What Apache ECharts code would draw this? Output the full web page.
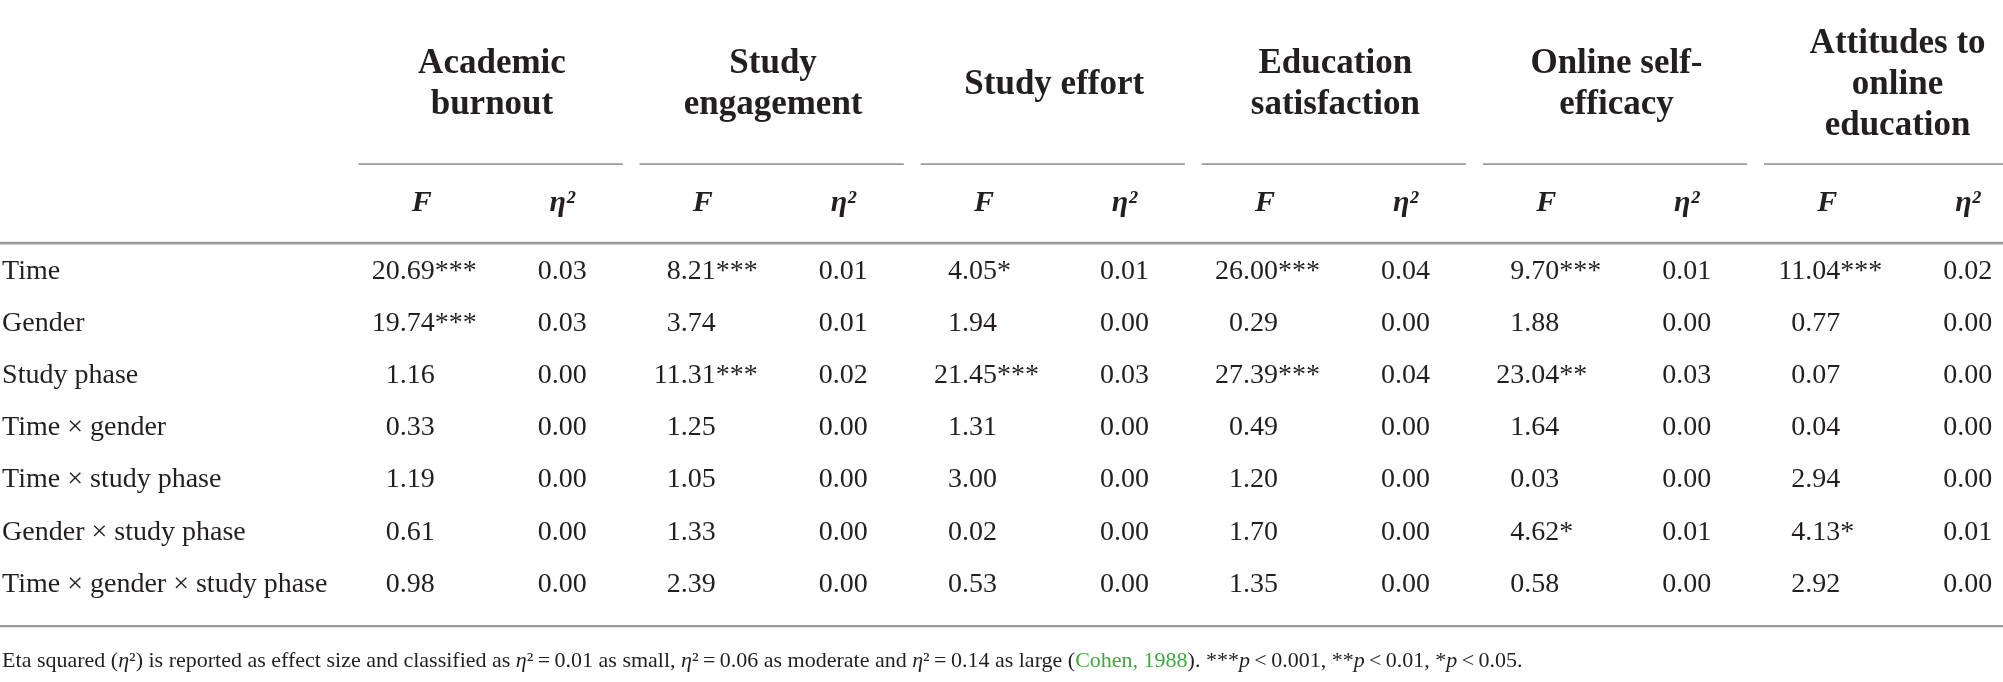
<!DOCTYPE html>
<html>
<head>
<meta charset="utf-8">
<script src="https://cdn.jsdelivr.net/npm/echarts@6/dist/echarts.min.js"></script>
<style>
html,body{margin:0;padding:0;background:#ffffff;}
#chart{width:2003px;height:682px;}
</style>
</head>
<body>
<div id="chart"></div>
<script>
// ---------- data ----------
const groups = ['Academic\nburnout', 'Study\nengagement', 'Study effort', 'Education\nsatisfaction', 'Online self-\nefficacy', 'Attitudes to\nonline\neducation'];
const subHeaders = ['F', 'η²'];
const effects = ['Time', 'Gender', 'Study phase', 'Time × gender', 'Time × study phase', 'Gender × study phase', 'Time × gender × study phase'];

const burnoutF      = ['20.69***', '19.74***', '1.16', '0.33', '1.19', '0.61', '0.98'];
const burnoutEta    = ['0.03', '0.03', '0.00', '0.00', '0.00', '0.00', '0.00'];
const engagementF   = ['8.21***', '3.74', '11.31***', '1.25', '1.05', '1.33', '2.39'];
const engagementEta = ['0.01', '0.01', '0.02', '0.00', '0.00', '0.00', '0.00'];
const effortF       = ['4.05*', '1.94', '21.45***', '1.31', '3.00', '0.02', '0.53'];
const effortEta     = ['0.01', '0.00', '0.03', '0.00', '0.00', '0.00', '0.00'];
const satisfactionF   = ['26.00***', '0.29', '27.39***', '0.49', '1.20', '1.70', '1.35'];
const satisfactionEta = ['0.04', '0.00', '0.04', '0.00', '0.00', '0.00', '0.00'];
const efficacyF     = ['9.70***', '1.88', '23.04**', '1.64', '0.03', '4.62*', '0.58'];
const efficacyEta   = ['0.01', '0.00', '0.03', '0.00', '0.00', '0.01', '0.00'];
const attitudesF    = ['11.04***', '0.77', '0.07', '0.04', '2.94', '4.13*', '2.92'];
const attitudesEta  = ['0.02', '0.00', '0.00', '0.00', '0.00', '0.01', '0.00'];

const footnoteCitation = 'Cohen, 1988';

// ---------- layout / style ----------
const FONT = '"Liberation Serif", "DejaVu Serif", serif';
const INK = '#231f20';
const RULE = '#9b9b9b';
const ROW_TITLE = -3.58, ROW_RULE1 = -2.055, ROW_SUB = -1.305, ROW_RULE2 = -0.54, ROW_RULE3 = 6.80, ROW_NOTE = 7.475;
const LABEL_X = -2.985;
const DEC_OFFSET = -22; // px, decimal point position relative to F column centre
const TS = '\u2009';

const columns = [
  [burnoutF, burnoutEta], [engagementF, engagementEta], [effortF, effortEta],
  [satisfactionF, satisfactionEta], [efficacyF, efficacyEta], [attitudesF, attitudesEta]
];

// cells
const cellData = [], cellText = [], cellIsF = [];
columns.forEach((pair, g) => {
  pair.forEach((arr, k) => {
    arr.forEach((txt, r) => {
      cellData.push([2 * g + k, r]);
      cellText.push(txt);
      cellIsF.push(k === 0);
    });
  });
});

function txtEl(x, y, text, opt) {
  return {
    type: 'text', x: x, y: y,
    style: Object.assign({
      text: text, fill: INK, fontFamily: FONT, fontSize: 28,
      align: 'center', verticalAlign: 'middle'
    }, opt || {})
  };
}

const option = {
  animation: false,
  backgroundColor: '#ffffff',
  grid: { left: 0, right: 0, top: 0, bottom: 0 },
  xAxis: { type: 'value', min: -3, max: 11.25, show: false },
  yAxis: { type: 'value', min: -5.2, max: 7.87, inverse: true, show: false },
  series: [
    // table rules
    {
      type: 'custom', coordinateSystem: 'cartesian2d', silent: true,
      data: (function () {
        const d = [];
        groups.forEach((_, g) => d.push([2 * g - 0.45, ROW_RULE1, 2 * g + 1.43, 1.6]));
        d.push([-3, ROW_RULE2, 11.25, 2.6]);
        d.push([-3, ROW_RULE3, 11.25, 2.2]);
        return d;
      })(),
      renderItem: function (params, api) {
        const a = api.coord([api.value(0), api.value(1)]);
        const b = api.coord([api.value(2), api.value(1)]);
        return { type: 'line', shape: { x1: a[0], y1: a[1], x2: b[0], y2: b[1] },
                 style: { stroke: RULE, lineWidth: api.value(3) } };
      }
    },
    // group titles
    {
      type: 'custom', coordinateSystem: 'cartesian2d', silent: true,
      data: groups.map((_, g) => [2 * g + 0.5, ROW_TITLE]),
      renderItem: function (params, api) {
        const p = api.coord([api.value(0), api.value(1)]);
        return txtEl(p[0], p[1], groups[params.dataIndex],
          { fontWeight: 'bold', fontSize: 35, lineHeight: 41 });
      }
    },
    // sub headers F / eta²
    {
      type: 'custom', coordinateSystem: 'cartesian2d', silent: true,
      data: (function () { const d = []; groups.forEach((_, g) => { d.push([2 * g, ROW_SUB, 0]); d.push([2 * g + 1, ROW_SUB, 1]); }); return d; })(),
      renderItem: function (params, api) {
        const p = api.coord([api.value(0), api.value(1)]);
        return txtEl(p[0], p[1], subHeaders[api.value(2)],
          { fontWeight: 'bold', fontStyle: 'italic', fontSize: 30 });
      }
    },
    // row labels
    {
      type: 'custom', coordinateSystem: 'cartesian2d', silent: true,
      data: effects.map((_, r) => [LABEL_X, r]),
      renderItem: function (params, api) {
        const p = api.coord([api.value(0), api.value(1)]);
        return txtEl(p[0], p[1], effects[params.dataIndex], { align: 'left' });
      }
    },
    // cells
    {
      type: 'custom', coordinateSystem: 'cartesian2d', silent: true,
      data: cellData,
      renderItem: function (params, api) {
        const p = api.coord([api.value(0), api.value(1)]);
        const t = cellText[params.dataIndex];
        if (!cellIsF[params.dataIndex]) return txtEl(p[0], p[1], t);
        const i = t.indexOf('.');
        return { type: 'group', children: [
          txtEl(p[0] + DEC_OFFSET, p[1], t.slice(0, i), { align: 'right' }),
          txtEl(p[0] + DEC_OFFSET, p[1], t.slice(i), { align: 'left' })
        ] };
      }
    },
    // footnote
    {
      type: 'custom', coordinateSystem: 'cartesian2d', silent: true,
      data: [[LABEL_X, ROW_NOTE]],
      renderItem: function (params, api) {
        const p = api.coord([api.value(0), api.value(1)]);
        const eq = TS + '=' + TS, lt = TS + '<' + TS;
        const t = '{n|Eta squared (}{i|η}{n|²) is reported as effect size and classified as }{i|η}{n|²' + eq + '0.01 as small, }{i|η}{n|²' + eq + '0.06 as moderate and }{i|η}{n|²' + eq + '0.14 as large (}{g|' +
          footnoteCitation + '}{n|). ***}{i|p}{n|' + lt + '0.001, **}{i|p}{n|' + lt + '0.01, *}{i|p}{n|' + lt + '0.05.}';
        return {
          type: 'text', x: p[0], y: p[1],
          style: {
            text: t, align: 'left', verticalAlign: 'middle',
            fontFamily: FONT, fontSize: 22, fill: INK,
            rich: {
              n: { fontFamily: FONT, fontSize: 22, fill: INK },
              i: { fontFamily: FONT, fontSize: 22, fill: INK, fontStyle: 'italic' },
              g: { fontFamily: FONT, fontSize: 22, fill: '#3fa83f' }
            }
          }
        };
      }
    }
  ]
};

const chart = echarts.init(document.getElementById('chart'), null, { renderer: 'canvas' });
chart.setOption(option);
</script>
</body>
</html>
